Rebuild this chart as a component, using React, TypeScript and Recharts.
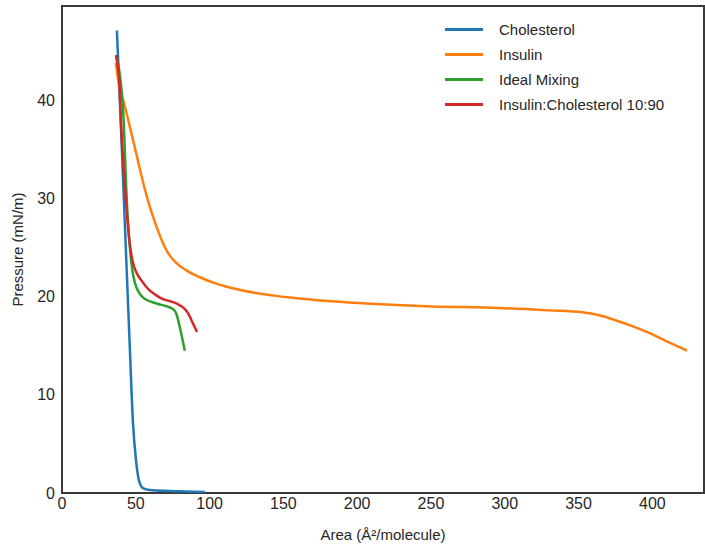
import { LineChart, Line, XAxis, YAxis, ReferenceArea } from 'recharts'

// pressure-area isotherms
const cholesterol = [
  { area: 37.2, pressure: 47.1 },
  { area: 40.6, pressure: 34.9 },
  { area: 43.3, pressure: 24.7 },
  { area: 46.0, pressure: 14.6 },
  { area: 48.0, pressure: 7.4 },
  { area: 50.1, pressure: 3.4 },
  { area: 52.1, pressure: 1.3 },
  { area: 54.8, pressure: 0.5 },
  { area: 59.5, pressure: 0.3 },
  { area: 73.0, pressure: 0.2 },
  { area: 96.8, pressure: 0.1 },
]

const insulin = [
  { area: 36.5, pressure: 43.8 },
  { area: 38.6, pressure: 41.5 },
  { area: 41.5, pressure: 40.0 },
  { area: 48.2, pressure: 35.9 },
  { area: 55.0, pressure: 31.6 },
  { area: 60.0, pressure: 28.9 },
  { area: 64.1, pressure: 27.1 },
  { area: 68.0, pressure: 25.6 },
  { area: 72.0, pressure: 24.4 },
  { area: 77.0, pressure: 23.5 },
  { area: 84.0, pressure: 22.7 },
  { area: 93.0, pressure: 22.0 },
  { area: 105, pressure: 21.3 },
  { area: 120, pressure: 20.7 },
  { area: 161, pressure: 19.8 },
  { area: 206, pressure: 19.3 },
  { area: 251, pressure: 19.0 },
  { area: 296, pressure: 18.85 },
  { area: 330, pressure: 18.6 },
  { area: 352.5, pressure: 18.4 },
  { area: 364, pressure: 18.1 },
  { area: 375, pressure: 17.6 },
  { area: 386.4, pressure: 17.0 },
  { area: 397.8, pressure: 16.3 },
  { area: 409, pressure: 15.5 },
  { area: 423.5, pressure: 14.5 },
]

const idealMixing = [
  { area: 37.2, pressure: 44.3 },
  { area: 41.5, pressure: 38.7 },
  { area: 43.8, pressure: 30.1 },
  { area: 46.0, pressure: 25.0 },
  { area: 49.4, pressure: 21.4 },
  { area: 55.0, pressure: 19.9 },
  { area: 64.1, pressure: 19.3 },
  { area: 71.0, pressure: 19.0 },
  { area: 75.5, pressure: 18.7 },
  { area: 77.6, pressure: 18.2 },
  { area: 79.8, pressure: 16.9 },
  { area: 83.2, pressure: 14.5 },
]

const mix1090 = [
  { area: 36.5, pressure: 44.6 },
  { area: 38.8, pressure: 42.0 },
  { area: 39.9, pressure: 38.0 },
  { area: 41.5, pressure: 33.6 },
  { area: 43.3, pressure: 29.8 },
  { area: 44.9, pressure: 26.8 },
  { area: 48.2, pressure: 23.4 },
  { area: 55.0, pressure: 21.4 },
  { area: 66.3, pressure: 19.9 },
  { area: 77.6, pressure: 19.3 },
  { area: 82.0, pressure: 18.9 },
  { area: 85.5, pressure: 18.3 },
  { area: 88.0, pressure: 17.5 },
  { area: 91.5, pressure: 16.4 },
]

const xTicks = [0, 50, 100, 150, 200, 250, 300, 350, 400]
const yTicks = [0, 10, 20, 30, 40]
const xMax = 435
const yMax = 49.6

const series = [
  { name: 'Cholesterol', data: cholesterol, color: '#1f77b4' },
  { name: 'Insulin', data: insulin, color: '#ff7f0e' },
  { name: 'Ideal Mixing', data: idealMixing, color: '#2ca02c' },
  { name: 'Insulin:Cholesterol 10:90', data: mix1090, color: '#d62728' },
]

const FONT = '"Liberation Sans", Arial, sans-serif'
const INK = '#262626'

const LegendBox = () => (
  <div style={{ position: 'absolute', left: 445, top: 17, fontFamily: FONT, fontSize: 15, color: INK }}>
    {series.map(s => (
      <div key={s.name} style={{ display: 'flex', alignItems: 'center', height: 25 }}>
        <span style={{ width: 38, height: 2.5, background: s.color, marginRight: 16 }} />
        <span>{s.name}</span>
      </div>
    ))}
  </div>
)

export default function App() {
  return (
    <div style={{ position: 'absolute', left: 0, top: 0, width: 705, height: 550, background: '#fff' }}>
      <LineChart width={705} height={550} margin={{ top: 6, right: 1, bottom: 0, left: 0 }}>
        <XAxis
          type="number"
          dataKey="area"
          domain={[0, xMax]}
          ticks={xTicks}
          allowDataOverflow
          height={57}
          axisLine={false}
          tickLine={false}
          tickSize={0}
          tickMargin={5}
          tick={{ fill: INK, fontSize: 16, fontFamily: FONT }}
          label={{ value: 'Area (Å²/molecule)', position: 'insideBottom', offset: 10, fill: INK, fontSize: 15, fontFamily: FONT }}
        />
        <YAxis
          type="number"
          dataKey="pressure"
          domain={[0, yMax]}
          ticks={yTicks}
          allowDataOverflow
          width={62}
          axisLine={false}
          tickLine={false}
          tickSize={0}
          tickMargin={7}
          tick={{ fill: INK, fontSize: 16, fontFamily: FONT }}
          label={{ value: 'Pressure (mN/m)', angle: -90, position: 'insideLeft', offset: 18, fill: INK, fontSize: 15, fontFamily: FONT, style: { textAnchor: 'middle' } }}
        />
        <ReferenceArea x1={0} x2={xMax} y1={0} y2={yMax} fill="none" stroke="#3a3a3a" strokeWidth={2} />
        {series.map(s => (
          <Line
            key={s.name}
            data={s.data}
            dataKey="pressure"
            name={s.name}
            type="monotone"
            stroke={s.color}
            strokeWidth={2.5}
            dot={false}
            isAnimationActive={false}
          />
        ))}
      </LineChart>
      <LegendBox />
    </div>
  )
}
